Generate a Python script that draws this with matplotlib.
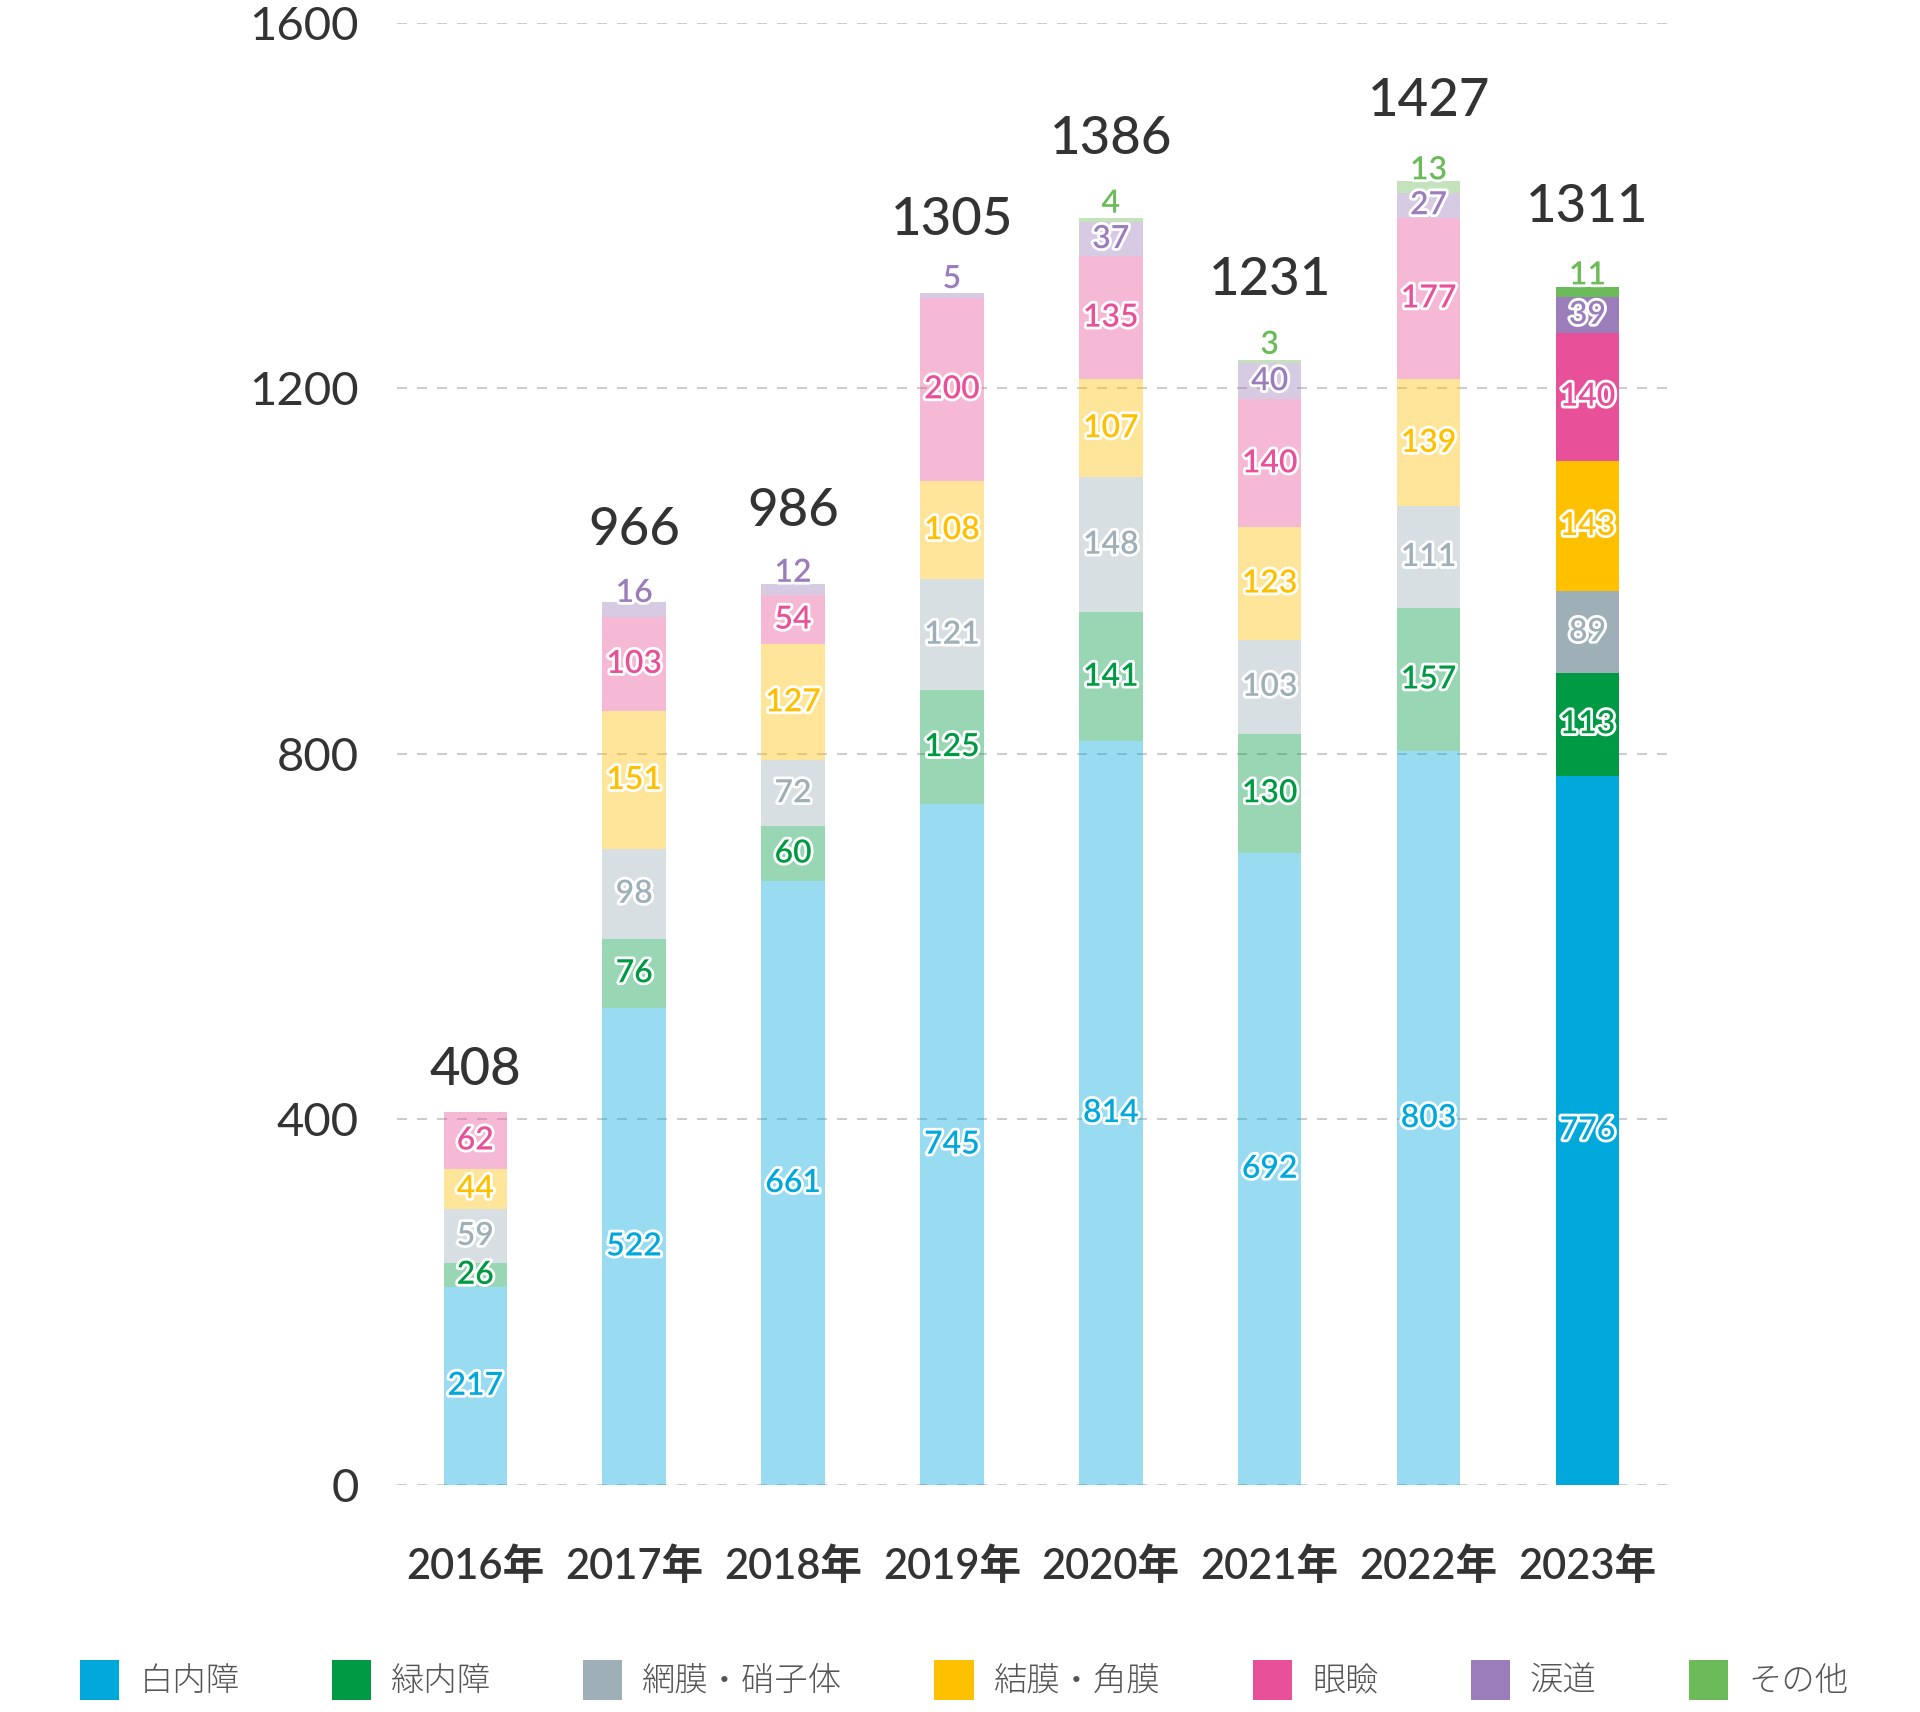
import numpy as np
import matplotlib
matplotlib.use("Agg")
import matplotlib.pyplot as plt
import matplotlib.patches as mpatch
import matplotlib.patheffects as pe

years = ["2016年", "2017年", "2018年", "2019年", "2020年", "2021年", "2022年", "2023年"]
totals = [408, 966, 986, 1305, 1386, 1231, 1427, 1311]

categories = ["白内障", "緑内障", "網膜・硝子体", "結膜・角膜", "眼瞼", "涙道", "その他"]
cataract = [217, 522, 661, 745, 814, 692, 803, 776]
glaucoma = [26, 76, 60, 125, 141, 130, 157, 113]
retina = [59, 98, 72, 121, 148, 103, 111, 89]
cornea = [44, 151, 127, 108, 107, 123, 139, 143]
eyelid = [62, 103, 54, 200, 135, 140, 177, 140]
lacrimal = [0, 16, 12, 5, 37, 40, 27, 39]
other = [0, 0, 0, 0, 4, 3, 13, 11]
series = [cataract, glaucoma, retina, cornea, eyelid, lacrimal, other]

colors = ["#00A8DC", "#009A44", "#9EAFB8", "#FFC000", "#E8519A", "#9B7DBB", "#6CBB5A"]

NUM_FONT = ["Lato", "Noto Sans CJK JP", "DejaVu Sans"]
JP_FONT = ["Noto Sans CJK JP", "DejaVu Sans"]
TXT = "#333333"

fig = plt.figure(figsize=[19.2, 17.12], dpi=100)
ax = fig.add_axes([0.207, 0.1326, 0.662, 0.854])

x = np.arange(len(years))
bottom = np.zeros(len(years))
last = len(years) - 1
for vals, c in zip(series, colors):
    vals = np.array(vals, dtype=float)
    # older years drawn pale, latest year in full colour
    alphas = [0.4] * last + [1.0]
    for i in x:
        ax.bar(i, vals[i], bottom=bottom[i], width=0.4, color=c, alpha=alphas[i],
               linewidth=0, zorder=2)
        if vals[i] > 0:
            dy = 12 if vals[i] < 20 else 0
            ax.annotate("%d" % vals[i], (i, bottom[i] + vals[i] / 2), xytext=(0, dy),
                        textcoords="offset points", ha="center", va="center",
                        fontsize=23, fontweight="semibold", family=NUM_FONT, color=c, zorder=4,
                        path_effects=[pe.withStroke(linewidth=4, foreground="white")])
    bottom += vals

for i, t in enumerate(totals):
    # extra room when a small label sits on the bar top
    off = 30
    if other[i] > 0:
        off = 57
    elif lacrimal[i] > 0:
        off = 52
    ax.annotate("%d" % t, (i, t), xytext=(0, off),
                textcoords="offset points", ha="center", va="center",
                fontsize=38, fontweight="medium", family=NUM_FONT, color=TXT, zorder=4)

ax.set_xlim(-0.49, 7.51)
ax.set_ylim(0, 1600)
ax.set_yticks([0, 400, 800, 1200, 1600])
ax.set_xticks(x)
ax.set_xticklabels(years, family=NUM_FONT, fontsize=30, fontweight="semibold", color=TXT)
for lab in ax.get_yticklabels():
    lab.set_family(NUM_FONT)
    lab.set_fontsize(34)
    lab.set_color(TXT)
ax.tick_params(axis="both", length=0)
ax.tick_params(axis="y", pad=28)
ax.tick_params(axis="x", pad=44)
ax.grid(axis="y", color="#c4c4c4", linestyle=(0, (6, 6)), linewidth=1.2, zorder=0)
ax.set_axisbelow(True)
for s in ax.spines.values():
    s.set_visible(False)

handles = [mpatch.Patch(color=c, linewidth=0) for c in colors]
fig.legend(handles, categories, loc="center left", bbox_to_anchor=(0.0417, 0.0187),
           ncol=7, frameon=False, borderpad=0, borderaxespad=0,
           handlelength=1.18, handleheight=1.45, handletextpad=0.6, columnspacing=2.76,
           prop={"family": JP_FONT, "size": 24, "weight": "light"}, labelcolor="#555555")

fig.savefig("out.png", dpi=100)
